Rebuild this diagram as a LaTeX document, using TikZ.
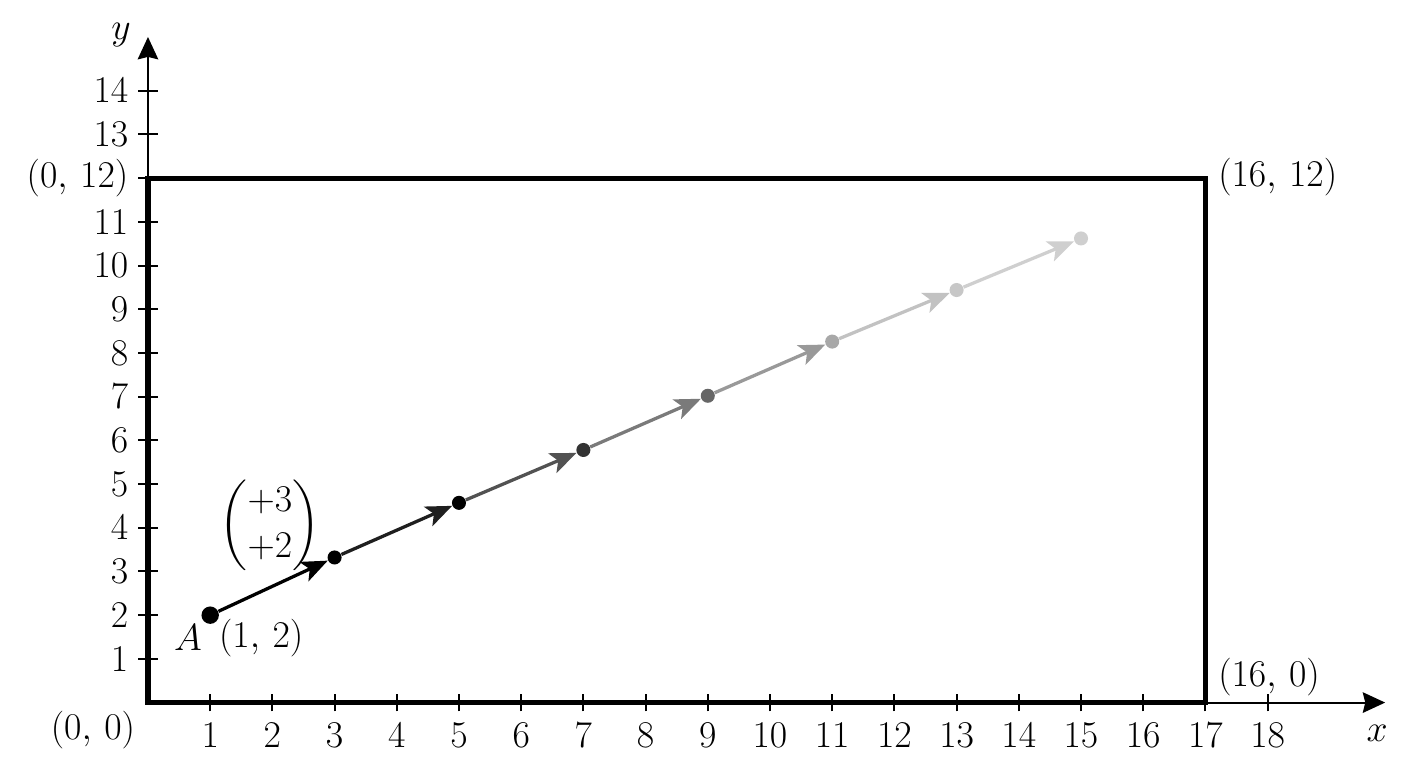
\documentclass[tikz,border=0pt]{standalone}
\usepackage{amsmath}
\usetikzlibrary{arrows.meta}
\begin{document}
\begin{tikzpicture}[x=1cm,y=0.7026cm,
  lbl/.style={font=\fontsize{17.5}{21}\selectfont, inner sep=0pt},
  axisline/.style={line width=0.9pt, -{Stealth[length=0.36cm,width=0.33cm,inset=0.04cm]}},
  tickmark/.style={line width=0.9pt},
  dot/.style={circle, fill=#1, inner sep=0pt, minimum size=0.226cm},
  seg/.style={draw=#1, line width=1.5pt, -{Stealth[length=0.42cm,width=0.34cm,inset=0.1cm]}}]
\useasboundingbox (-2.379,-1.499) rectangle (20.257,16.076);
% axes
\coordinate (O) at (0,0);
\coordinate (xend) at (19.89,0);
\coordinate (yend) at (0,15.23);
\draw[axisline] (O) -- (xend);
\draw[axisline] (O) -- (yend);
\foreach \k in {1,...,18} {
  \draw[tickmark] (\k,0) ++(0,-0.14cm) -- ++(0,0.28cm);
  \node[lbl] (xt\k) at (\k,-0.74) {$\k$};
}
\foreach \k in {1,...,11,13,14} {
  \draw[tickmark] (0,\k) ++(-0.155cm,0) -- ++(0.31cm,0);
  \node[lbl, anchor=east] (yt\k) at (-0.31,\k) {$\k$};
}
\draw[tickmark] (0,12) ++(-0.155cm,0) -- ++(0.31cm,0);
% rectangle
\draw[line width=2.4pt, line join=miter] (0,0) rectangle (17,12);
% labels
\node[lbl] (ylab) at (-0.434,15.27) {$y$};
\node[lbl] (xlab) at (19.76,-0.70) {$x$};
\node[lbl, anchor=east] (c012) at (-0.31,12.0) {$(0,\,12)$};
\node[lbl] (c00) at (-0.884,-0.63) {$(0,\,0)$};
\node[lbl, anchor=west] (c1612) at (17.2,12.03) {$(16,\,12)$};
\node[lbl, anchor=west] (c160) at (17.2,0.58) {$(16,\,0)$};
% points
\node[dot=black, minimum size=0.28cm] (p1) at (1,2) {};
\node[dot=black] (p3) at (3,3.32) {};
\node[dot=black] (p5) at (5,4.57) {};
\node[dot={black!80}] (p7) at (7,5.78) {};
\node[dot={black!60}] (p9) at (9,7.02) {};
\node[dot={black!34}] (p11) at (11,8.26) {};
\node[dot={black!22}] (p13) at (13,9.44) {};
\node[dot={black!19}] (p15) at (15,10.62) {};
% segments
\draw[seg=black] (p1) -- (p3);
\draw[seg={black!88}] (p3) -- (p5);
\draw[seg={black!68}] (p5) -- (p7);
\draw[seg={black!52}] (p7) -- (p9);
\draw[seg={black!40}] (p9) -- (p11);
\draw[seg={black!24}] (p11) -- (p13);
\draw[seg={black!19}] (p13) -- (p15);
% point labels
\node[lbl] (Alab) at (0.643,1.476) {$A$};
\node[lbl] (p1lab) at (1.82,1.476) {$(1,\,2)$};
\node[lbl] (vec) at (1.96,4.06) {$\begin{pmatrix}+3\\+2\end{pmatrix}$};
\end{tikzpicture}
\end{document}
